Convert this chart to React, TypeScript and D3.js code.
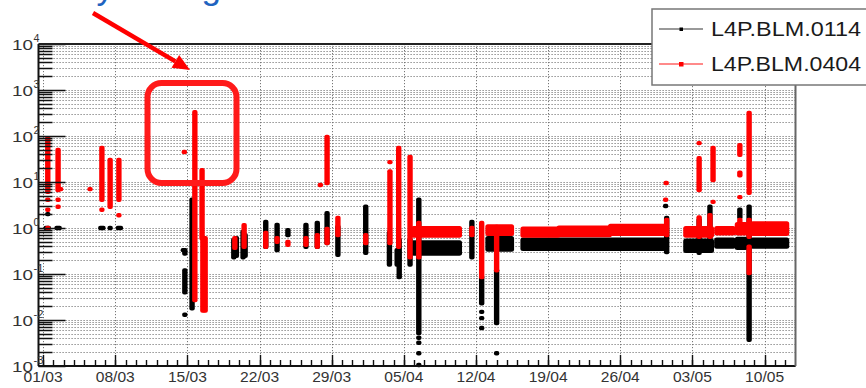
import React from 'react';
import * as d3 from 'd3';

const W = 866;
const H = 388;
const frame = { left: 38.5, right: 795.5, top: 44, bottom: 366 };

// x values are days counted from 01/03 00:00
const baseDate = Date.UTC(2013, 2, 1);
const dayMin = -0.45;
const dayMax = 73;
const tickDays = [0, 7, 14, 21, 28, 35, 42, 49, 56, 63, 70];
const tickLabels = ['01/03', '08/03', '15/03', '22/03', '29/03', '05/04', '12/04', '19/04', '26/04', '03/05', '10/05'];
const decades = [-3, -2, -1, 0, 1, 2, 3, 4];

const seriesNames = ['L4P.BLM.0114', 'L4P.BLM.0404'];

// vertical streaks of readings: [day, low, high]
const blackRuns = [
  [0.3, 1, 1], [0.5, 1, 1], [0.45, 2, 2], [1.35, 1, 1], [1.55, 1, 1],
  [5.6, 1, 1], [5.8, 1, 1], [6.5, 1, 1], [7.3, 1, 1], [7.5, 1, 1],
  [13.6, 0.33, 0.33], [13.75, 0.28, 0.33], [13.75, 0.04, 0.12], [13.75, 0.013, 0.013],
  [14.45, 0.018, 4.1], [14.6, 0.03, 1.5],
  [18.5, 0.23, 0.55], [18.75, 0.25, 0.6],
  [19.4, 0.23, 0.82], [19.6, 0.25, 0.7],
  [21.6, 0.39, 1.35], [22.7, 0.33, 1.16], [23.75, 0.7, 0.9],
  [25.5, 0.39, 1.16], [26.6, 0.39, 1.28], [27.55, 0.47, 2.1],
  [28.6, 0.26, 1.05], [31.3, 0.29, 2.9],
  [33.6, 0.16, 0.78], [34.35, 0.16, 0.33], [34.55, 0.086, 0.55], [35.6, 0.16, 0.55],
  [36.45, 0.0052, 4.1], [36.45, 0.0041, 0.0041], [36.45, 0.0032, 0.0032],
  [36.45, 0.0019, 0.0019], [36.45, 0.00105, 0.00105],
  [41.6, 0.23, 1.35],
  [42.55, 0.023, 0.086], [42.55, 0.015, 0.015], [42.55, 0.011, 0.011], [42.55, 0.0067, 0.0067],
  [44.0, 0.0086, 0.12], [44.0, 0.0019, 0.0019],
  [60.5, 0.3, 1.65], [60.4, 3, 3],
  [63.65, 0.29, 1.5], [64.7, 0.39, 2.9], [67.6, 1.7, 2.5],
  [68.5, 0.0037, 2.9],
];

const redRuns = [
  [0.45, 6.1, 90], [0.45, 4.1, 4.1], [0.45, 2.5, 2.5], [0.45, 1, 1],
  [1.45, 6.7, 50], [1.45, 4.1, 4.1], [1.45, 2.9, 2.9], [1.7, 7, 7],
  [4.55, 7, 7],
  [5.7, 4.1, 55], [5.7, 2.5, 2.5], [6.5, 2.9, 30], [7.35, 4.1, 30], [7.35, 1.9, 1.9],
  [13.7, 45, 45],
  [14.72, 0.027, 330],
  [15.42, 0.6, 18], [15.5, 0.016, 0.6], [15.72, 0.016, 0.6],
  [18.6, 0.37, 0.6], [19.5, 0.39, 1.15],
  [21.6, 0.39, 0.78], [22.7, 0.5, 0.6], [23.75, 0.43, 0.5],
  [25.5, 0.43, 0.6], [26.6, 0.39, 0.7], [26.9, 8.6, 8.6],
  [27.55, 9.5, 95], [27.55, 0.47, 0.95],
  [28.6, 0.7, 1.65], [31.3, 0.47, 0.7],
  [33.65, 27, 27], [33.65, 0.47, 17],
  [34.5, 0.39, 55], [35.6, 0.23, 35], [36.45, 0.23, 1.28],
  [41.6, 0.7, 1.0], [42.55, 0.086, 1.28], [44.0, 0.12, 1.05],
  [60.5, 0.7, 1.5], [60.4, 4.1, 4.1], [60.45, 9.5, 9.5],
  [63.65, 70, 70], [63.65, 6.7, 33], [63.65, 0.64, 1.7],
  [64.7, 0.64, 1.9], [65.0, 11, 55], [65.0, 3.7, 3.7],
  [67.6, 39, 63], [67.6, 14, 16], [67.6, 4.7, 4.7], [67.6, 0.78, 1.5],
  [68.5, 7.8, 316], [68.5, 5.8, 6.7], [68.5, 0.64, 1.5], [68.5, 0.105, 0.39],
];

// steady stretches: [fromDay, toDay, low, high]
const blackBands = [
  [35.9, 40.45, 0.27, 0.5],
  [43.1, 45.5, 0.33, 0.62],
  [46.5, 60.4, 0.34, 0.58],
  [62.3, 64.9, 0.31, 0.55],
  [65.3, 67.0, 0.38, 0.58],
  [67.3, 68.2, 0.36, 0.6],
  [68.8, 72.2, 0.38, 0.58],
];

const redBands = [
  [35.9, 40.45, 0.66, 1.02],
  [43.1, 45.5, 0.72, 1.12],
  [46.5, 50, 0.66, 1.0],
  [50, 55, 0.68, 1.05],
  [55, 60.4, 0.72, 1.15],
  [62.3, 64.9, 0.66, 1.02],
  [65.3, 67.0, 0.74, 1.02],
  [67.3, 68.2, 0.74, 1.25],
  [68.8, 72.2, 0.72, 1.3],
];

const FONT = '"Liberation Sans", Arial, sans-serif';
const toDate = (d: number) => new Date(baseDate + d * 864e5);

export default function App() {
  const x = d3.scaleUtc().domain([toDate(dayMin), toDate(dayMax)]).range([frame.left, frame.right]);
  const y = d3.scaleLog().domain([1e-3, 1e4]).range([frame.bottom, frame.top]);
  const xd = (d: number) => x(toDate(d));

  const minorY: number[] = [];
  decades.slice(0, -1).forEach(k => {
    for (let m = 2; m <= 9; m++) minorY.push(m * Math.pow(10, k));
  });
  const allY = [...minorY, ...decades.map(k => Math.pow(10, k))];
  const minorDays = d3.range(0, 73);

  const runRects = (runs: number[][], color: string) =>
    runs.map((r, i) => {
      const top = y(r[2]) - 2.2;
      const bot = y(r[1]) + 2.2;
      return <rect key={color + i} x={xd(r[0]) - 2.7} y={top} width={5.4} height={bot - top} rx={2} fill={color} />;
    });

  const bandRects = (bands: number[][], color: string) =>
    bands.map((b, i) => {
      const top = y(b[3]) - 1.5;
      const bot = y(b[2]) + 1.5;
      return <rect key={color + 'b' + i} x={xd(b[0]) - 2} y={top} width={xd(b[1]) - xd(b[0]) + 4} height={bot - top} rx={2.5} fill={color} />;
    });

  // arrow geometry
  const a0 = [93, 13];
  const tip = [190, 70];
  const len = Math.hypot(tip[0] - a0[0], tip[1] - a0[1]);
  const u = [(tip[0] - a0[0]) / len, (tip[1] - a0[1]) / len];
  const base = [tip[0] - 17 * u[0], tip[1] - 17 * u[1]];
  const pp = [-u[1] * 7.5, u[0] * 7.5];

  return (
    <div style={{ position: 'absolute', left: 0, top: 0 }}>
      <svg width={W} height={H} style={{ display: 'block', background: '#fff' }}>
        <rect width={W} height={H} fill="#fff" />

        {/* grid */}
        <g stroke="#777" strokeWidth={1} strokeDasharray="1.2,1.8">
          {allY.map((v, i) => (
            <line key={'gy' + i} x1={frame.left} x2={frame.right} y1={Math.round(y(v)) + 0.5} y2={Math.round(y(v)) + 0.5} />
          ))}
          {tickDays.map(d => (
            <line key={'gx' + d} x1={Math.round(xd(d)) + 0.5} x2={Math.round(xd(d)) + 0.5} y1={frame.top} y2={frame.bottom} />
          ))}
        </g>

        {/* data */}
        <g>{bandRects(blackBands, '#000')}{runRects(blackRuns, '#000')}</g>
        <g>{bandRects(redBands, '#ff0000')}{runRects(redRuns, '#ff0000')}</g>

        {/* y ticks */}
        <g stroke="#111" strokeWidth={1.5}>
          {minorY.map((v, i) => (
            <line key={'ty' + i} x1={frame.left} x2={frame.left + 14} y1={Math.round(y(v)) + 0.5} y2={Math.round(y(v)) + 0.5} />
          ))}
          {decades.map(k => (
            <line key={'TY' + k} x1={frame.left} x2={frame.left + 27} y1={Math.round(y(Math.pow(10, k))) + 0.5} y2={Math.round(y(Math.pow(10, k))) + 0.5} />
          ))}
        </g>
        {/* x ticks */}
        <g stroke="#111" strokeWidth={1.4}>
          {minorDays.map(d => (
            <line key={'tx' + d} x1={Math.round(xd(d)) + 0.5} x2={Math.round(xd(d)) + 0.5} y1={frame.bottom} y2={frame.bottom - 6} />
          ))}
          {tickDays.map(d => (
            <line key={'TX' + d} x1={Math.round(xd(d)) + 0.5} x2={Math.round(xd(d)) + 0.5} y1={frame.bottom} y2={frame.bottom - 11} />
          ))}
        </g>

        {/* frame */}
        <line x1={frame.left} x2={frame.left} y1={frame.top} y2={frame.bottom} stroke="#111" strokeWidth={2} />
        <line x1={frame.left} x2={frame.right} y1={frame.bottom} y2={frame.bottom} stroke="#111" strokeWidth={2} />
        <line x1={frame.left} x2={frame.right} y1={frame.top} y2={frame.top} stroke="#222" strokeWidth={1.8} />
        <line x1={frame.right} x2={frame.right} y1={frame.top} y2={frame.bottom} stroke="#666" strokeWidth={2} />

        {/* y labels */}
        {decades.map(k => {
          const ty = y(Math.pow(10, k));
          const exp = String(k);
          return (
            <g key={'ly' + k} fontFamily={FONT} fill="#333">
              <text x={12} y={ty + 5.5} fontSize={14.5} textLength={21} lengthAdjust="spacingAndGlyphs">10</text>
              <text x={33.5} y={ty - 2} fontSize={10} textLength={exp.length > 1 ? 10 : 6} lengthAdjust="spacingAndGlyphs">{exp}</text>
            </g>
          );
        })}

        {/* x labels */}
        {tickDays.map((d, i) => (
          <text key={'lx' + d} x={xd(d)} y={382} textAnchor="middle" fontFamily={FONT} fontSize={14.5} fill="#333"
            textLength={39} lengthAdjust="spacingAndGlyphs">{tickLabels[i]}</text>
        ))}

        {/* legend */}
        <rect x={652} y={9} width={240} height={76} fill="#fff" stroke="#777" strokeWidth={1.5} />
        <line x1={659} x2={703} y1={29} y2={29} stroke="#777" strokeWidth={1.5} />
        <rect x={679.5} y={27.5} width={3.5} height={3.5} fill="#000" />
        <line x1={659} x2={703} y1={64} y2={64} stroke="#ff8a8a" strokeWidth={1.8} />
        <rect x={679} y={62} width={4.5} height={4.5} fill="#ff0000" />
        {seriesNames.map((n, i) => (
          <text key={n} x={711} y={36 + i * 35} fontFamily={FONT} fontSize={21} fill="#1a1a1a" textLength={150}
            lengthAdjust="spacingAndGlyphs">{n}</text>
        ))}

        {/* annotation */}
        <text x={44} y={-1} fontFamily={FONT} fontSize={35} fill="#1f64c0">Very strong</text>
        <line x1={a0[0]} y1={a0[1]} x2={base[0]} y2={base[1]} stroke="#ff0000" strokeWidth={4.5} />
        <polygon
          points={`${tip[0]},${tip[1]} ${base[0] + pp[0]},${base[1] + pp[1]} ${base[0] - pp[0]},${base[1] - pp[1]}`}
          fill="#ff0000" />
        <rect x={147.5} y={83} width={89} height={100} rx={14} fill="none" stroke="#ff1a1a" strokeWidth={6} />
      </svg>
    </div>
  );
}
